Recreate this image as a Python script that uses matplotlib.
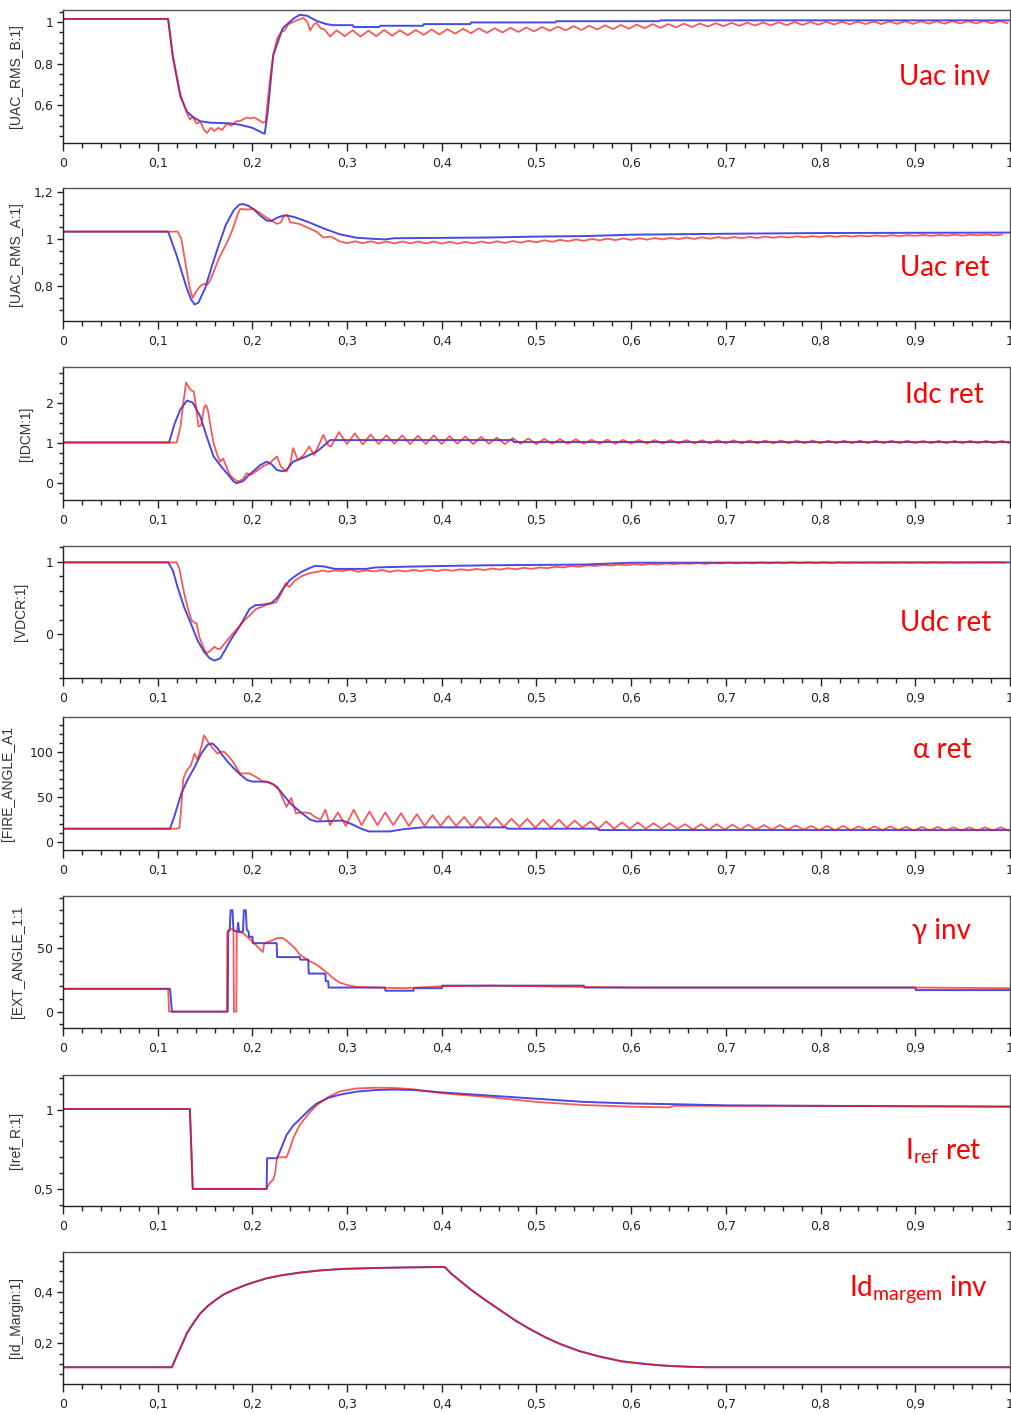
import numpy as np
import matplotlib
matplotlib.use("Agg")
import matplotlib.pyplot as plt
from matplotlib.ticker import MultipleLocator, FuncFormatter

# ---------------- DATA ----------------
HALF_PERIOD = 1 / 120.0  # ripple sampling: one value per half cycle (60 Hz)

# Panel 1 : Uac inv
uinv_blue_t = [0, 0.111, 0.116, 0.124, 0.131, 0.138, 0.145, 0.155, 0.175, 0.187, 0.2, 0.211, 0.213,
               0.216, 0.222, 0.232, 0.243, 0.25, 0.258, 0.268, 0.278, 0.285, 0.306, 0.307, 0.334, 0.335,
               0.38, 0.381, 0.43, 0.431, 0.52, 0.521, 0.63, 0.631, 1.0]
uinv_blue_v = [1.015, 1.015, 0.83, 0.64, 0.567, 0.54, 0.522, 0.515, 0.512, 0.505, 0.49, 0.465, 0.462,
               0.56, 0.84, 0.97, 1.015, 1.035, 1.03, 1.005, 0.99, 0.985, 0.985, 0.976, 0.976, 0.982,
               0.982, 0.99, 0.99, 0.998, 0.998, 1.004, 1.004, 1.008, 1.008]
uinv_red_t = [0, 0.111, 0.116, 0.124, 0.131, 0.134, 0.137, 0.141, 0.145, 0.149, 0.152, 0.156, 0.16,
              0.164, 0.168, 0.173, 0.178, 0.182, 0.188, 0.194, 0.198, 0.202, 0.206, 0.211, 0.214, 0.218,
              0.222, 0.226, 0.23, 0.234, 0.238, 0.243, 0.248, 0.254, 0.258, 0.261, 0.265, 0.268, 0.272,
              0.276, 0.282, 0.289]
uinv_red_v = [1.015, 1.015, 0.84, 0.65, 0.56, 0.53, 0.545, 0.51, 0.52, 0.48, 0.465, 0.49, 0.475,
              0.49, 0.48, 0.51, 0.5, 0.52, 0.525, 0.54, 0.535, 0.54, 0.53, 0.515, 0.52, 0.7,
              0.84, 0.92, 0.95, 0.96, 0.99, 1.0, 1.01, 1.02, 1.0, 0.96, 0.99, 0.995, 0.97,
              0.965, 0.93, 0.96]
uinv_red_ripple_t0 = 0.2975
uinv_red_ripple = [0.932, 0.96, 0.93, 0.958, 0.932, 0.962, 0.934, 0.96, 0.936, 0.962, 0.938, 0.964,
                   0.94, 0.966, 0.944, 0.968, 0.946, 0.97, 0.948, 0.97, 0.95, 0.972, 0.952, 0.974,
                   0.955, 0.976, 0.958, 0.978, 0.96, 0.98, 0.962, 0.982, 0.964, 0.984, 0.966, 0.986,
                   0.968, 0.988, 0.97, 0.99, 0.972, 0.99, 0.975, 0.992, 0.976, 0.993, 0.978, 0.994,
                   0.98, 0.996, 0.982, 0.997, 0.983, 0.998, 0.984, 0.999, 0.985, 1.0, 0.986, 1.0,
                   0.987, 1.001, 0.988, 1.002, 0.989, 1.002, 0.99, 1.003, 0.99, 1.003, 0.991, 1.004,
                   0.991, 1.004, 0.992, 1.004, 0.992, 1.005, 0.993, 1.005, 0.993, 1.005, 0.994, 1.005,
                   0.994]

# Panel 2 : Uac ret
uret_blue_t = [0, 0.111, 0.12, 0.13, 0.135, 0.139, 0.143, 0.15, 0.158, 0.165, 0.172, 0.18, 0.186, 0.19,
               0.195, 0.201, 0.208, 0.215, 0.22, 0.226, 0.232, 0.236, 0.245, 0.26, 0.275, 0.292, 0.31,
               0.33, 0.34, 0.35, 0.45, 0.5, 0.55, 0.6, 0.7, 0.8, 1.0]
uret_blue_v = [1.031, 1.031, 0.93, 0.8, 0.745, 0.722, 0.73, 0.79, 0.895, 0.98, 1.06, 1.12, 1.145, 1.148,
               1.142, 1.127, 1.1, 1.078, 1.076, 1.09, 1.098, 1.1, 1.092, 1.07, 1.045, 1.02, 1.005,
               1.0, 0.998, 1.003, 1.006, 1.01, 1.012, 1.018, 1.022, 1.025, 1.027]
uret_red_t = [0, 0.121, 0.125, 0.13, 0.134, 0.137, 0.141, 0.145, 0.149, 0.152, 0.155, 0.16, 0.165, 0.17,
              0.175, 0.18, 0.184, 0.187, 0.195, 0.201, 0.208, 0.215, 0.22, 0.226, 0.23, 0.233, 0.237,
              0.24, 0.244, 0.25, 0.26, 0.268, 0.275, 0.283, 0.292]
uret_red_v = [1.031, 1.031, 1.0, 0.88, 0.79, 0.75, 0.78, 0.8, 0.81, 0.805, 0.82, 0.87, 0.92, 0.96,
              1.0, 1.05, 1.1, 1.127, 1.125, 1.127, 1.11, 1.09, 1.078, 1.064, 1.07, 1.097, 1.1,
              1.07, 1.068, 1.063, 1.045, 1.03, 1.006, 1.01, 0.99]
uret_red_ripple_t0 = 0.3
uret_red_ripple = [0.982, 0.99, 0.982, 0.99, 0.981, 0.989, 0.981, 0.989, 0.981, 0.989, 0.981, 0.989,
                   0.98, 0.988, 0.98, 0.988, 0.981, 0.989, 0.982, 0.99, 0.983, 0.991, 0.984, 0.992,
                   0.986, 0.994, 0.988, 0.996, 0.99, 0.998, 0.992, 1.0, 0.994, 1.001, 0.995, 1.002,
                   0.996, 1.003, 0.997, 1.004, 0.998, 1.005, 0.999, 1.006, 1.0, 1.007, 1.001, 1.008,
                   1.002, 1.008, 1.003, 1.009, 1.004, 1.01, 1.005, 1.01, 1.006, 1.011, 1.007, 1.012,
                   1.008, 1.013, 1.009, 1.014, 1.01, 1.014, 1.011, 1.015, 1.012, 1.016, 1.012, 1.016,
                   1.013, 1.017, 1.013, 1.017, 1.014, 1.018, 1.014, 1.018, 1.015, 1.019, 1.015, 1.019]

# Panel 3 : Idc ret
idc_blue_t = [0, 0.112, 0.118, 0.124, 0.131, 0.137, 0.145, 0.152, 0.159, 0.166, 0.173, 0.18, 0.183, 0.19,
              0.196, 0.201, 0.208, 0.215, 0.22, 0.226, 0.232, 0.236, 0.243, 0.255, 0.268, 0.276, 0.282,
              0.475, 0.476, 1.0]
idc_blue_v = [1.02, 1.02, 1.5, 1.85, 2.07, 2.02, 1.67, 1.15, 0.67, 0.45, 0.25, 0.05, 0.0, 0.05,
              0.2, 0.3, 0.45, 0.54, 0.48, 0.33, 0.3, 0.33, 0.54, 0.65, 0.79, 0.95, 1.08,
              1.08, 1.03, 1.03]
idc_red_t = [0, 0.12, 0.124, 0.127, 0.13, 0.133, 0.135, 0.138, 0.14, 0.143, 0.146, 0.149, 0.151, 0.153,
             0.156, 0.159, 0.163, 0.166, 0.169, 0.172, 0.176, 0.18, 0.185, 0.19, 0.194, 0.198, 0.204,
             0.211, 0.218, 0.226, 0.23, 0.236, 0.24, 0.243, 0.248, 0.254, 0.26, 0.265, 0.27, 0.275,
             0.28, 0.283]
idc_red_v = [1.02, 1.02, 1.4, 2.0, 2.52, 2.4, 2.33, 2.3, 2.0, 1.42, 1.45, 1.9, 1.96, 1.83,
             1.4, 1.0, 0.7, 0.54, 0.62, 0.45, 0.21, 0.12, 0.04, 0.1, 0.25, 0.21, 0.3,
             0.42, 0.5, 0.67, 0.42, 0.29, 0.5, 0.88, 0.58, 0.7, 0.92, 0.71, 0.95, 1.21,
             0.95, 0.92]
idc_red_ripple_t0 = 0.2915
idc_red_ripple = [1.28, 0.98, 1.25, 0.97, 1.22, 0.98, 1.2, 0.99, 1.2, 0.98, 1.19, 0.98,
                  1.2, 0.98, 1.18, 0.99, 1.17, 0.98, 1.16, 0.99, 1.14, 0.98, 1.13, 0.99,
                  1.12, 0.98, 1.11, 0.99, 1.1, 0.99, 1.1, 0.99, 1.09, 0.99, 1.09, 0.99,
                  1.085, 0.995, 1.085, 0.995, 1.08, 0.995, 1.08, 1.0, 1.08, 1.0, 1.075, 1.0,
                  1.075, 1.0, 1.075, 1.0, 1.07, 1.0, 1.07, 1.0, 1.07, 1.0, 1.07, 1.0,
                  1.07, 1.0, 1.065, 1.005, 1.065, 1.005, 1.065, 1.005, 1.065, 1.005, 1.065, 1.005,
                  1.065, 1.005, 1.06, 1.005, 1.06, 1.005, 1.06, 1.005, 1.06, 1.005, 1.06, 1.005,
                  1.06, 1.005]

# Panel 4 : Udc ret
udc_blue_t = [0, 0.111, 0.116, 0.121, 0.128, 0.135, 0.142, 0.149, 0.155, 0.16, 0.166, 0.171, 0.176, 0.187,
              0.197, 0.203, 0.212, 0.22, 0.226, 0.232, 0.239, 0.245, 0.252, 0.26, 0.266, 0.275, 0.287,
              0.32, 0.33, 0.36, 0.4, 0.45, 0.5, 0.55, 0.58, 0.6, 1.0]
udc_blue_v = [0.99, 0.99, 0.88, 0.65, 0.37, 0.15, -0.08, -0.24, -0.33, -0.36, -0.33, -0.22, -0.1, 0.12,
              0.35, 0.4, 0.41, 0.43, 0.5, 0.62, 0.74, 0.8, 0.86, 0.91, 0.94, 0.935, 0.9,
              0.9, 0.92, 0.93, 0.94, 0.95, 0.955, 0.96, 0.975, 0.985, 0.99]
udc_red_t = [0, 0.12, 0.123, 0.128, 0.133, 0.136, 0.139, 0.141, 0.144, 0.149, 0.152, 0.156, 0.16, 0.163,
             0.166, 0.176, 0.19, 0.204, 0.218, 0.225, 0.23, 0.235, 0.239, 0.245, 0.252, 0.26, 0.269,
             0.275, 0.28, 0.287]
udc_red_v = [0.99, 0.99, 0.9, 0.56, 0.3, 0.19, 0.16, 0.15, -0.04, -0.2, -0.26, -0.22, -0.17, -0.2,
             -0.2, -0.04, 0.17, 0.35, 0.42, 0.44, 0.55, 0.7, 0.65, 0.74, 0.8, 0.84, 0.86,
             0.88, 0.86, 0.88]
udc_red_ripple_t0 = 0.295
udc_red_ripple = [0.87, 0.89, 0.86, 0.88, 0.865, 0.885, 0.86, 0.88, 0.865, 0.885, 0.87, 0.89,
                  0.87, 0.89, 0.875, 0.895, 0.88, 0.9, 0.885, 0.905, 0.89, 0.91, 0.895, 0.915,
                  0.9, 0.92, 0.91, 0.93, 0.92, 0.94, 0.93, 0.95, 0.94, 0.955, 0.945, 0.96,
                  0.95, 0.965, 0.955, 0.97, 0.96, 0.975, 0.965, 0.975, 0.97, 0.98, 0.97, 0.98,
                  0.975, 0.985, 0.975, 0.985, 0.978, 0.988, 0.978, 0.988, 0.98, 0.99, 0.98, 0.99,
                  0.982, 0.99, 0.982, 0.99, 0.984, 0.99, 0.984, 0.99, 0.985, 0.99, 0.985, 0.99,
                  0.985, 0.99, 0.985, 0.99, 0.986, 0.99, 0.986, 0.99, 0.986, 0.99, 0.986, 0.99,
                  0.986]

# Panel 5 : alpha ret
alpha_blue_t = [0, 0.113, 0.118, 0.125, 0.132, 0.139, 0.146, 0.153, 0.158, 0.163, 0.167, 0.173, 0.18,
                0.187, 0.194, 0.2, 0.215, 0.222, 0.226, 0.233, 0.24, 0.25, 0.261, 0.268, 0.295, 0.305,
                0.315, 0.323, 0.345, 0.36, 0.38, 0.468, 0.469, 0.565, 0.566, 1.0]
alpha_blue_v = [15, 15, 30, 54, 70, 83, 98, 108, 109, 104, 98, 90, 82,
                75, 69, 67, 67, 64, 61, 52, 43, 34, 25, 23, 24, 20,
                15, 12, 12, 14.5, 16.5, 16.5, 15, 15, 13.5, 13.5]
alpha_red_t = [0, 0.12, 0.123, 0.125, 0.127, 0.13, 0.135, 0.139, 0.142, 0.146, 0.149, 0.153, 0.158,
               0.163, 0.167, 0.17, 0.175, 0.18, 0.187, 0.197, 0.204, 0.211, 0.218, 0.222, 0.228, 0.236,
               0.241, 0.246, 0.255, 0.261, 0.266, 0.272, 0.277, 0.282]
alpha_red_v = [15, 15, 16, 40, 70, 78, 85, 98, 91, 105, 118, 111, 104,
               98, 100, 100, 95, 88, 76, 76, 72, 67, 66, 64, 58, 39,
               49, 32, 33, 32, 28, 25, 36, 19]
alpha_red_ripple_t0 = 0.2903
alpha_red_ripple = [33, 18, 36, 19, 34, 19, 33, 19, 32, 18, 31, 18,
                    30, 18, 29, 18, 28, 17, 28, 17, 27, 17, 26, 17,
                    26, 16, 25, 16, 25, 16, 24, 16, 23, 15, 23, 15,
                    22, 15, 22, 15, 21, 15, 21, 15, 20, 14, 20, 14,
                    20, 14, 19.5, 14, 19.5, 14, 19, 14, 19, 14, 18.5, 14,
                    18, 13.5, 18, 13.5, 18, 13.5, 17.5, 13.5, 17.5, 13.5, 17.5, 13.5,
                    17, 13, 17, 13, 17, 13, 16.5, 13, 16.5, 13, 16.5, 13,
                    16.5, 13]

# Panel 6 : gamma inv
gamma_blue_t = [0, 0.113, 0.115, 0.174, 0.1745, 0.176, 0.177, 0.179, 0.18, 0.184, 0.185, 0.186, 0.19,
                0.191, 0.193, 0.194, 0.196, 0.1965, 0.2, 0.2005, 0.2256, 0.2261, 0.25, 0.2505, 0.259,
                0.2595, 0.277, 0.2775, 0.28, 0.2805, 0.34, 0.3405, 0.37, 0.3705, 0.4, 0.4005, 0.55,
                0.5505, 0.9, 0.9005, 1.0]
gamma_blue_v = [18, 18, 0, 0, 63, 64, 80, 80, 64, 63, 70, 63, 63,
                80, 80, 65, 63, 59, 59, 54, 54, 43, 43, 41, 41,
                30, 30, 24, 24, 19, 19, 16.5, 16.5, 18.5, 18.5, 20.5, 20.5,
                19, 19, 17, 17]
gamma_red_t = [0, 0.111, 0.112, 0.173, 0.1735, 0.176, 0.18, 0.1805, 0.183, 0.1835, 0.19, 0.196, 0.203,
               0.211, 0.2125, 0.22, 0.226, 0.232, 0.236, 0.245, 0.25, 0.26, 0.268, 0.28, 0.285, 0.292,
               0.3, 0.31, 0.33, 0.36, 0.4, 0.45, 0.5, 0.55, 0.6, 0.9, 1.0]
gamma_red_v = [18, 18, 0, 0, 63, 65, 65, 0, 0, 63, 62, 58, 53,
               47, 54, 56, 58, 58, 56, 50, 45, 40, 37, 30, 26.5, 23,
               21, 19.5, 19, 18.5, 20, 20.5, 20, 19.5, 19, 19, 18.5]

# Panel 7 : Iref ret
iref_blue_t = [0, 0.134, 0.137, 0.215, 0.2155, 0.226, 0.23, 0.236, 0.243, 0.25, 0.26, 0.268, 0.28,
               0.292, 0.31, 0.33, 0.35, 0.37, 0.4, 0.45, 0.5, 0.55, 0.6, 0.65, 0.7, 0.8, 1.0]
iref_blue_v = [1.005, 1.005, 0.5, 0.5, 0.694, 0.694, 0.75, 0.84, 0.9, 0.94, 1.0, 1.04, 1.075,
               1.095, 1.115, 1.125, 1.128, 1.125, 1.11, 1.09, 1.07, 1.05, 1.04, 1.035, 1.028, 1.025, 1.02]
iref_red_t = [0, 0.134, 0.137, 0.215, 0.218, 0.222, 0.224, 0.226, 0.236, 0.24, 0.243, 0.25, 0.26,
              0.268, 0.28, 0.292, 0.31, 0.33, 0.35, 0.37, 0.4, 0.45, 0.5, 0.55, 0.6, 0.64, 0.645,
              0.7, 0.8, 1.0]
iref_red_v = [1.005, 1.005, 0.5, 0.5, 0.535, 0.56, 0.6, 0.7, 0.7, 0.76, 0.82, 0.905, 0.98,
              1.03, 1.08, 1.116, 1.135, 1.14, 1.138, 1.13, 1.105, 1.08, 1.05, 1.03, 1.02, 1.015, 1.025,
              1.025, 1.025, 1.02]

# Panel 8 : Id margem inv (both curves coincide)
idm_t = [0, 0.115, 0.12, 0.125, 0.131, 0.138, 0.145, 0.153, 0.162, 0.17, 0.18, 0.19, 0.2, 0.215,
         0.23, 0.25, 0.27, 0.285, 0.3, 0.33, 0.36, 0.403, 0.41, 0.42, 0.43, 0.445, 0.461, 0.477,
         0.493, 0.51, 0.525, 0.545, 0.567, 0.59, 0.609, 0.625, 0.641, 0.66, 0.68, 1.0]
idm_v = [0.107, 0.107, 0.15, 0.19, 0.24, 0.28, 0.316, 0.345, 0.37, 0.39, 0.407, 0.422, 0.435, 0.452,
         0.463, 0.474, 0.482, 0.486, 0.489, 0.492, 0.494, 0.496, 0.47, 0.44, 0.41, 0.37, 0.33, 0.29,
         0.255, 0.222, 0.197, 0.17, 0.148, 0.13, 0.122, 0.116, 0.112, 0.109, 0.107, 0.107]

x_ticks = [0, 0.1, 0.2, 0.3, 0.4, 0.5, 0.6, 0.7, 0.8, 0.9, 1.0]

y_labels = ["[UAC_RMS_B:1]", "[UAC_RMS_A:1]", "[IDCM:1]", "[VDCR:1]",
            "[FIRE_ANGLE_A1", "[EXT_ANGLE_1:1", "[Iref_R:1]", "[Id_Margin:1]"]
panel_titles = ["Uac inv", "Uac ret", "Idc ret", "Udc ret", "α ret", "γ inv",
                r"I$_{\mathregular{ref}}$ ret", r"Id$_{\mathregular{margem}}$ inv"]
y_major_ticks = [[0.6, 0.8, 1.0], [0.8, 1.0, 1.2], [0, 1, 2], [0, 1], [0, 50, 100], [0, 50],
                 [0.5, 1.0], [0.2, 0.4]]

# ---------------- LAYOUT / STYLE ----------------
W, H = 1012, 1414
panel_px = [(10, 143), (188, 321), (367, 500), (546, 678), (717, 850), (896, 1028), (1075, 1206),
            (1252, 1384)]
ylims = [(0.417, 1.058), (0.652, 1.216), (-0.42, 2.91), (-0.6, 1.215), (-8.5, 138.3), (-12.9, 91.2),
         (0.392, 1.22), (0.042, 0.554)]
y_minor = [0.05, 0.05, 0.25, 0.2, 10, 10, 0.1, 0.04]
ylabel_x_px = [23, 23, 33, 28, 15, 25, 23, 23]
title_px = [(945, 77), (945, 268), (944, 395), (946, 623), (942, 750), (942, 931), (943, 1151), (918, 1290)]

BLUE = "#3535e0"
RED = "#f01515"


def ripple_series(t_tr, v_tr, t0, ripple):
    tt = list(t_tr) + list(t0 + np.arange(len(ripple)) * HALF_PERIOD)
    vv = list(v_tr) + list(ripple)
    return tt, vv


series = [
    ((uinv_blue_t, uinv_blue_v), ripple_series(uinv_red_t, uinv_red_v, uinv_red_ripple_t0, uinv_red_ripple)),
    ((uret_blue_t, uret_blue_v), ripple_series(uret_red_t, uret_red_v, uret_red_ripple_t0, uret_red_ripple)),
    ((idc_blue_t, idc_blue_v), ripple_series(idc_red_t, idc_red_v, idc_red_ripple_t0, idc_red_ripple)),
    ((udc_blue_t, udc_blue_v), ripple_series(udc_red_t, udc_red_v, udc_red_ripple_t0, udc_red_ripple)),
    ((alpha_blue_t, alpha_blue_v), ripple_series(alpha_red_t, alpha_red_v, alpha_red_ripple_t0, alpha_red_ripple)),
    ((gamma_blue_t, gamma_blue_v), (gamma_red_t, gamma_red_v)),
    ((iref_blue_t, iref_blue_v), (iref_red_t, iref_red_v)),
    ((idm_t, idm_v), (idm_t, idm_v)),
]

fig = plt.figure(figsize=(W / 100, H / 100), dpi=100)
fmt = FuncFormatter(lambda v, p: f"{v:g}".replace(".", ","))

for i in range(8):
    top, bot = panel_px[i]
    ax = fig.add_axes([63 / W, 1 - bot / H, 947 / W, (bot - top) / H])
    (bt, bv), (rt, rv) = series[i]
    ax.plot(bt, bv, color=BLUE, lw=1.4, alpha=0.9, solid_joinstyle="round")
    ax.plot(rt, rv, color=RED, lw=1.3, alpha=0.7, solid_joinstyle="round")
    ax.set_xlim(0, 1)
    ax.set_ylim(*ylims[i])
    ax.set_xticks(x_ticks)
    ax.xaxis.set_minor_locator(MultipleLocator(0.02))
    ax.set_yticks(y_major_ticks[i])
    ax.yaxis.set_minor_locator(MultipleLocator(y_minor[i]))
    ax.xaxis.set_major_formatter(fmt)
    ax.yaxis.set_major_formatter(fmt)
    ax.tick_params(axis="x", which="major", direction="out", length=5.8, width=1, color="#222222",
                   labelsize=9, labelcolor="#222222", pad=4.5)
    ax.tick_params(axis="x", which="minor", direction="out", length=3.6, width=1, color="#222222")
    ax.tick_params(axis="y", which="major", direction="out", length=4.5, width=1, color="#222222",
                   labelsize=9, labelcolor="#222222", pad=2.5)
    ax.tick_params(axis="y", which="minor", direction="out", length=3.0, width=1, color="#222222")
    for lab in ax.get_xticklabels() + ax.get_yticklabels():
        lab.set_family("DejaVu Sans")
    for s in ["left", "bottom"]:
        ax.spines[s].set_color("#222222")
        ax.spines[s].set_linewidth(1.0)
    for s in ["top", "right"]:
        ax.spines[s].set_color("#555555")
        ax.spines[s].set_linewidth(1.0)
    ax.set_ylabel(y_labels[i], fontsize=10, color="#333333", family="Liberation Sans")
    ax.yaxis.set_label_coords((ylabel_x_px[i] - 63) / 947, 0.5)
    tx, ty = title_px[i]
    fig.text(tx / W, 1 - ty / H, panel_titles[i], color="#ff0000", fontsize=20,
             family=["Lato", "DejaVu Sans"], ha="center", va="center")

fig.savefig("out.png", dpi=100)
